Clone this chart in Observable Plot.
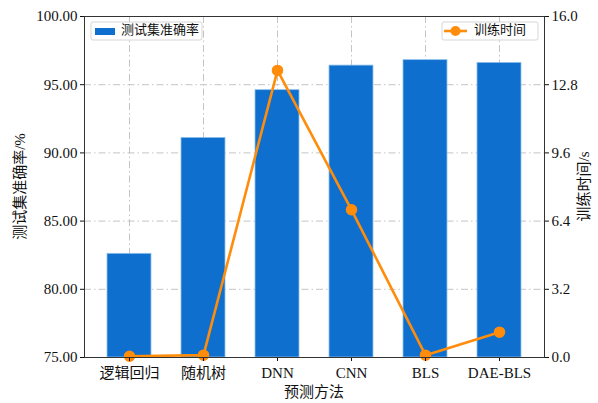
<!DOCTYPE html>
<html>
<head>
<meta charset="utf-8">
<script src="https://cdn.jsdelivr.net/npm/d3@7"></script>
<script src="https://cdn.jsdelivr.net/npm/@observablehq/plot@0.6"></script>
<style>
  html, body { margin: 0; padding: 0; background: #fff; }
  #chart { width: 598px; height: 403px; }
</style>
</head>
<body>
<div id="chart"></div>
<script>
const categories = ["逻辑回归", "随机树", "DNN", "CNN", "BLS", "DAE-BLS"];
const accuracy = [82.6, 91.1, 94.6, 96.4, 96.8, 96.6];
const trainTime = [0.06, 0.11, 13.47, 6.93, 0.11, 1.19];
const accTicks = [75, 80, 85, 90, 95, 100];
const timeTicks = [0, 3.2, 6.4, 9.6, 12.8, 16];
const accDomain = [75, 100];
const timeDomain = [0, 16];

const blue = "#0f6fce";
const orange = "#ff8c0a";
const serif = "'Liberation Serif', 'Noto Sans CJK SC', serif";

// map time onto the accuracy scale (secondary axis)
const tToY = t => accDomain[0] + (t - timeDomain[0]) * (accDomain[1] - accDomain[0]) / (timeDomain[1] - timeDomain[0]);
const yToT = y => timeDomain[0] + (y - accDomain[0]) * (timeDomain[1] - timeDomain[0]) / (accDomain[1] - accDomain[0]);

const data = categories.map((c, i) => ({cat: c, acc: accuracy[i], time: trainTime[i], ty: tToY(trainTime[i])}));

const W = 598, H = 403;
const mL = 84, mR = 54, mT = 16, mB = 46;

const plot = Plot.plot({
  width: W,
  height: H,
  marginLeft: mL,
  marginRight: mR,
  marginTop: mT,
  marginBottom: mB,
  style: {fontFamily: serif, fontSize: "15px", color: "#111", background: "#fff"},
  x: {type: "band", domain: categories, paddingInner: 0.4, paddingOuter: 0.28, label: null},
  y: {domain: accDomain, label: null},
  marks: [
    Plot.gridY(accTicks, {stroke: "#bdbdbd", strokeOpacity: 1, strokeDasharray: "7,3,1.5,3", strokeWidth: 0.9}),
    Plot.gridX(categories, {stroke: "#bdbdbd", strokeOpacity: 1, strokeDasharray: "7,3,1.5,3", strokeWidth: 0.9}),
    Plot.barY(data, {x: "cat", y1: accDomain[0], y2: "acc", fill: blue, stroke: "#8fc0ee", strokeWidth: 0.8}),
    Plot.line(data, {x: "cat", y: "ty", stroke: orange, strokeWidth: 2.6}),
    Plot.dot(data, {x: "cat", y: "ty", r: 5, fill: orange, stroke: orange}),
    Plot.axisY({anchor: "left", ticks: accTicks, tickFormat: d => d.toFixed(2), tickSize: 4, tickPadding: 3, label: null, fontSize: 15, fontFamily: serif}),
    Plot.axisY({anchor: "right", ticks: timeTicks.map(tToY), tickFormat: d => yToT(d).toFixed(1), tickSize: 4, tickPadding: 3, label: null, fontSize: 15, fontFamily: serif}),
    Plot.axisX({anchor: "bottom", tickSize: 4, tickPadding: 6, label: null, fontSize: 15, fontFamily: serif}),
    Plot.frame({stroke: "#333", strokeWidth: 1})
  ]
});

document.getElementById("chart").appendChild(plot);

// axis titles and legends
const svg = d3.select(plot);
const plotCx = mL + (W - mL - mR) / 2;
const plotCy = mT + (H - mT - mB) / 2;

svg.append("text")
  .attr("transform", `translate(22,${plotCy}) rotate(-90)`)
  .attr("text-anchor", "middle").attr("dominant-baseline", "middle")
  .style("font-family", serif).style("font-size", "15px").attr("fill", "#111")
  .text("测试集准确率/%");

svg.append("text")
  .attr("transform", `translate(586,${plotCy}) rotate(-90)`)
  .attr("text-anchor", "middle").attr("dominant-baseline", "middle")
  .style("font-family", serif).style("font-size", "15px").attr("fill", "#111")
  .text("训练时间/s");

svg.append("text")
  .attr("x", plotCx).attr("y", 394)
  .attr("text-anchor", "middle").attr("dominant-baseline", "middle")
  .style("font-family", serif).style("font-size", "15px").attr("fill", "#111")
  .text("预测方法");

// legend 1
const lg1 = svg.append("g");
lg1.append("rect").attr("x", 91).attr("y", 22).attr("width", 111).attr("height", 18).attr("rx", 2)
  .attr("fill", "#fff").attr("fill-opacity", 0.85).attr("stroke", "#d6d6d6");
lg1.append("rect").attr("x", 95).attr("y", 28).attr("width", 20).attr("height", 7).attr("fill", blue);
lg1.append("text").attr("x", 121).attr("y", 31.5).attr("text-anchor", "start").attr("dominant-baseline", "middle")
  .style("font-family", serif).style("font-size", "13px").attr("fill", "#111").text("测试集准确率");

// legend 2
const lg2 = svg.append("g");
lg2.append("rect").attr("x", 442).attr("y", 22).attr("width", 96).attr("height", 18).attr("rx", 2)
  .attr("fill", "#fff").attr("fill-opacity", 0.85).attr("stroke", "#d6d6d6");
lg2.append("line").attr("x1", 444).attr("x2", 467).attr("y1", 31).attr("y2", 31)
  .attr("stroke", orange).attr("stroke-width", 2.6);
lg2.append("circle").attr("cx", 455.5).attr("cy", 31).attr("r", 5).attr("fill", orange);
lg2.append("text").attr("x", 474).attr("y", 31.5).attr("text-anchor", "start").attr("dominant-baseline", "middle")
  .style("font-family", serif).style("font-size", "13px").attr("fill", "#111").text("训练时间");
</script>
</body>
</html>
